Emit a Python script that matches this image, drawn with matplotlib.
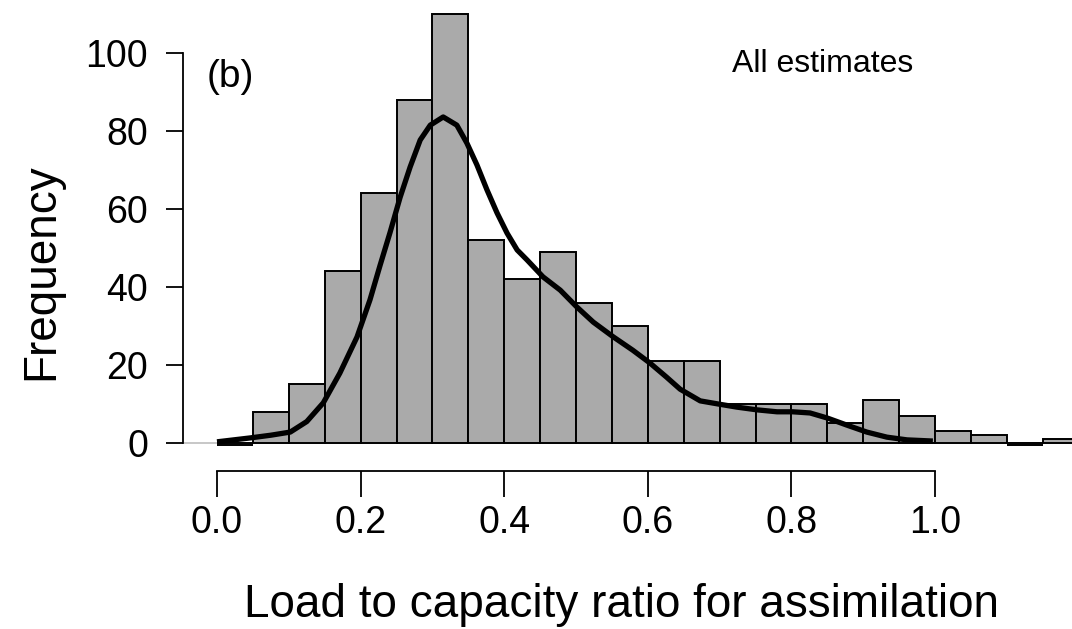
import matplotlib
matplotlib.use("Agg")
import matplotlib.pyplot as plt
import numpy as np

plt.rcParams['font.family'] = ['Liberation Sans', 'DejaVu Sans']

# histogram bins (width 0.05) and counts
bin_left = np.arange(0.0, 1.2, 0.05)
counts = np.array([0, 8, 15, 44, 64, 88, 110, 52, 42, 49, 36, 30,
                   21, 21, 10, 10, 10, 5, 11, 7, 3, 2, 0, 1])

# density curve (scaled to counts), traced by eye
dens_x = [0.0, 0.046, 0.075, 0.102, 0.125, 0.148, 0.171, 0.195, 0.213, 0.227,
          0.241, 0.255, 0.269, 0.283, 0.297, 0.315, 0.334, 0.348, 0.362, 0.376,
          0.39, 0.404, 0.418, 0.432, 0.454, 0.478, 0.501, 0.524, 0.552, 0.579,
          0.603, 0.626, 0.645, 0.673, 0.698, 0.724, 0.752, 0.78, 0.802, 0.826,
          0.85, 0.877, 0.905, 0.933, 0.961, 0.997]
dens_y = [0.3, 1.3, 2.0, 2.8, 5.5, 10.3, 17.9, 27.2, 36.7, 45.5,
          54, 63, 70.8, 77.7, 81.5, 83.6, 81.5, 76.9, 71.3, 64.9,
          59, 53.8, 49.5, 46.9, 42.6, 39.2, 34.9, 31, 27.2, 23.8,
          20.5, 16.9, 13.8, 10.8, 10, 9.2, 8.5, 8.0, 8.0, 7.7,
          6.4, 4.6, 2.8, 1.5, 0.8, 0.5]

W, H = 1072, 629
fig = plt.figure(figsize=(W/100, H/100), dpi=100)
ax = fig.add_axes([183/W, (H-471)/H, (W-183)/W, 471/H])

ax.axhline(0, color='#bebebe', lw=1.2, zorder=1)
ax.bar(bin_left, counts, width=0.05, align='edge', color='#aaaaaa',
       edgecolor='black', linewidth=1.4, zorder=2)
# empty bins are drawn by R as a flat line
empty = counts == 0
ax.hlines(np.full(empty.sum(), -0.45), bin_left[empty], bin_left[empty] + 0.05,
          color='black', lw=1.4, zorder=2)
ax.plot(dens_x, dens_y, color='black', lw=3.8, solid_capstyle='butt', zorder=3)

ax.set_xlim(-0.0474, 1.1908)
ax.set_ylim(-7.18, 113.59)

for s in ['top', 'right']:
    ax.spines[s].set_visible(False)
ax.spines['left'].set_bounds(0, 100)
ax.spines['bottom'].set_bounds(0, 1.0)
ax.spines['left'].set_linewidth(1.3)
ax.spines['bottom'].set_linewidth(1.3)

ax.set_yticks([0, 20, 40, 60, 80, 100])
ax.set_xticks([0.0, 0.2, 0.4, 0.6, 0.8, 1.0])
ax.set_xticklabels(['0.0', '0.2', '0.4', '0.6', '0.8', '1.0'])
ax.tick_params(axis='y', length=12.2, width=1.3, pad=13, labelsize=27)
ax.tick_params(axis='x', length=18.7, width=1.3, pad=6, labelsize=27)

fig.text(207/W, (H-77)/H, '(b)', fontsize=28, ha='left', va='center')
fig.text(823/W, (H-64)/H, 'All estimates', fontsize=23,
         ha='center', va='center')

fig.text(622/W, 12/H, 'Load to capacity ratio for assimilation',
         fontsize=33, ha='center', va='baseline')
fig.text(41/W, (H-272)/H, 'Frequency', fontsize=33, rotation=90,
         ha='center', va='center')

plt.savefig("out.png", dpi=100)
